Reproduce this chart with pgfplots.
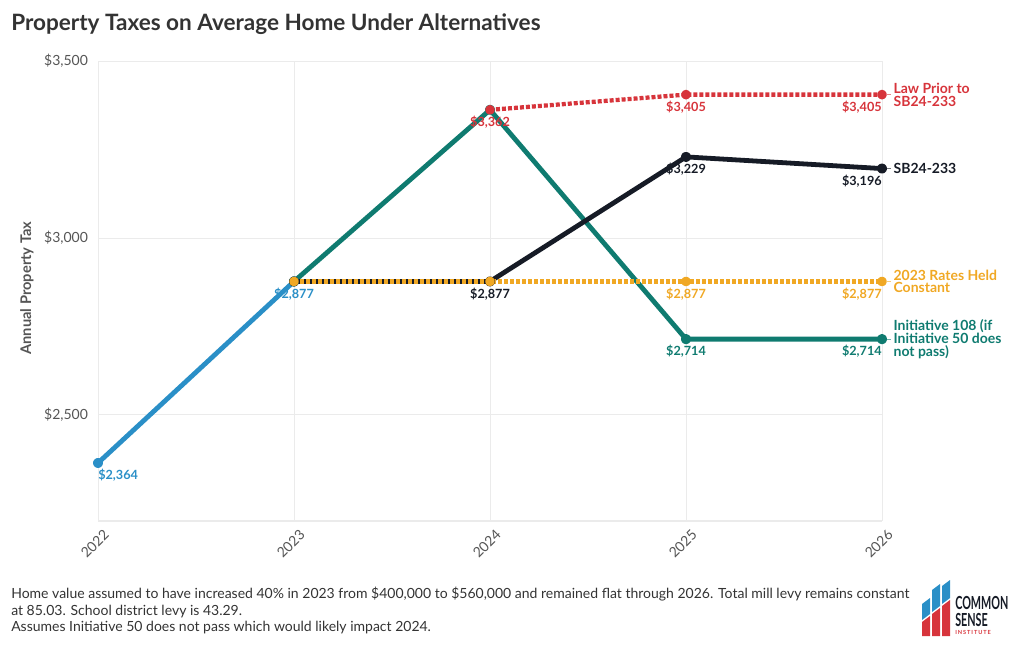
\documentclass[border=0pt]{standalone}
\usepackage{fontspec}
\setmainfont{Lato}
\newfontfamily\logofont[FakeStretch=0.6]{Lato}
\usepackage{pgfplots}
\pgfplotsset{compat=1.18}
\definecolor{cblue}{HTML}{2A8FC7}
\definecolor{cteal}{HTML}{0F7B70}
\definecolor{cred}{HTML}{D7343B}
\definecolor{cblack}{HTML}{161B26}
\definecolor{corange}{HTML}{F0A824}
\definecolor{ctitle}{HTML}{333333}
\definecolor{ctick}{HTML}{555555}
\definecolor{cgrid}{HTML}{EBEBEB}
\definecolor{lblue}{HTML}{2A8FC7}
\definecolor{lred}{HTML}{D7343B}
\begin{document}
\begin{tikzpicture}[x=0.75pt,y=-0.75pt]
\path[use as bounding box] (0,0) rectangle (1020,650);
\node[anchor=west, inner sep=0, text=ctitle, font=\bfseries\fontsize{16.9}{19}\selectfont] at (11,24) {Property Taxes on Average Home Under Alternatives};
\node[rotate=90, inner sep=0, text=ctick, font=\bfseries\fontsize{11}{12}\selectfont] at (27,288) {Annual Property Tax};
\begin{axis}[
  at={(73.5pt,-390.75pt)}, anchor=south west,
  scale only axis, width=588pt, height=345pt,
  xmin=2022, xmax=2026, ymin=2200, ymax=3500,
  xtick={2022,2023,2024,2025,2026},
  ytick={2500,3000,3500},
  grid=major, major grid style={cgrid, line width=0.6pt},
  axis line style={draw=none},
  major tick length=0pt,
  /pgf/number format/assume math mode=true,
  x tick label style={/pgf/number format/1000 sep={}, rotate=45, anchor=north east, text=ctick, font=\fontsize{10.5}{12}\selectfont, xshift=2pt, yshift=-3pt},
  yticklabel={\$\pgfmathprintnumber[1000 sep={,}]{\tick}},
  y tick label style={text=ctick, font=\fontsize{10.5}{12}\selectfont, xshift=-4pt},
  clip=false,
  every axis plot/.style={line width=3.6pt, mark=*, mark size=2pt, line join=round},
]
\draw[cgrid, line width=0.8pt] (axis cs:2022,2200) -- (axis cs:2026,2200);
% 2022-2023 history
\addplot[cblue, mark options={draw=none, fill=cblue}] coordinates {(2022,2364) (2023,2877)};
% Initiative 108
\addplot[cteal, mark options={draw=none, fill=cteal}] coordinates {(2023,2877) (2024,3362) (2025,2714) (2026,2714)};
% Law prior
\addplot[cred, line width=3.2pt, dash pattern=on 3pt off 1.5pt, mark options={draw=none, fill=cred, solid}] coordinates {(2024,3362) (2025,3405) (2026,3405)};
% SB24-233
\addplot[cblack, mark options={draw=none, fill=cblack}] coordinates {(2023,2877) (2024,2877) (2025,3229) (2026,3196)};
% 2023 rates held
\addplot[corange, line width=3.2pt, dash pattern=on 3pt off 1.5pt, mark options={draw=none, fill=corange, solid}] coordinates {(2023,2877) (2024,2877) (2025,2877) (2026,2877)};

\tikzset{dl/.style={font=\bfseries\fontsize{9.5}{10}\selectfont, inner sep=0pt, anchor=north, yshift=-4.5pt}}
\node[dl, text=cblue, anchor=north west] at (axis cs:2022,2364) {\$2,364};
\node[dl, text=cblue] at (axis cs:2023,2877) {\$2,877};
\node[dl, text=cred] at (axis cs:2024,3362) {\$3,362};
\node[dl, text=cblack] at (axis cs:2024,2877) {\$2,877};
\node[dl, text=cred] at (axis cs:2025,3405) {\$3,405};
\node[dl, text=cblack] at (axis cs:2025,3229) {\$3,229};
\node[dl, text=corange] at (axis cs:2025,2877) {\$2,877};
\node[dl, text=cteal] at (axis cs:2025,2714) {\$2,714};
\node[dl, text=cred, anchor=north east] at (axis cs:2026,3405) {\$3,405};
\node[dl, text=cblack, anchor=north east] at (axis cs:2026,3196) {\$3,196};
\node[dl, text=corange, anchor=north east] at (axis cs:2026,2877) {\$2,877};
\node[dl, text=cteal, anchor=north east] at (axis cs:2026,2714) {\$2,714};

\tikzset{el/.style={font=\bfseries\fontsize{10.5}{9.6}\selectfont, inner sep=0pt, anchor=west, xshift=8.5pt, align=left}}
\draw[cred!60, line width=0.6pt] ([xshift=3.5pt]axis cs:2026,3405) -- ([xshift=7pt]axis cs:2026,3405);
\draw[cblack!60, line width=0.6pt] ([xshift=3.5pt]axis cs:2026,3196) -- ([xshift=7pt]axis cs:2026,3196);
\draw[corange!60, line width=0.6pt] ([xshift=3.5pt]axis cs:2026,2877) -- ([xshift=7pt]axis cs:2026,2877);
\draw[cteal!60, line width=0.6pt] ([xshift=3.5pt]axis cs:2026,2714) -- ([xshift=7pt]axis cs:2026,2714);
\node[el, text=cred] at (axis cs:2026,3405) {Law Prior to\\SB24-233};
\node[el, text=cblack] at (axis cs:2026,3196) {SB24-233};
\node[el, text=corange] at (axis cs:2026,2877) {2023 Rates Held\\Constant};
\node[el, text=cteal] at (axis cs:2026,2714) {Initiative 108 (if\\Initiative 50 does\\not pass)};
\end{axis}
% footer
\node[anchor=north west, inner sep=0, text=ctitle, align=left, font=\fontsize{10.5}{12.4}\selectfont] at (11,587) {Home value assumed to have increased 40\% in 2023 from \$400,000 to \$560,000 and remained flat through 2026. Total mill levy remains constant\\at 85.03. School district levy is 43.29.\\Assumes Initiative 50 does not pass which would likely impact 2024.};
% logo
\fill[lred] (922,636) -- (922,622) -- (930,616) -- (930,636) -- cycle;
\fill[lred] (932,636) -- (932,614) -- (940,608) -- (940,636) -- cycle;
\fill[lred] (942,636) -- (942,606) -- (950,600) -- (950,636) -- cycle;
\fill[lblue] (922,620) -- (922,604) -- (930,598) -- (930,614) -- cycle;
\fill[lblue] (932,612) -- (932,590) -- (940,584) -- (940,606) -- cycle;
\fill[lblue] (942,604) -- (942,586) -- (950,580) -- (950,598) -- cycle;
\node[anchor=west, inner sep=0, text=cblack, font=\logofont\bfseries\fontsize{13.5}{13}\selectfont] at (955,603) {COMMON};
\node[anchor=west, inner sep=0, text=cblack, font=\logofont\bfseries\fontsize{13.5}{13}\selectfont] at (955,620) {SENSE};
\node[anchor=west, inner sep=0, text=lred, font=\bfseries\fontsize{4.2}{5}\selectfont] at (955,632) {I\,N\,S\,T\,I\,T\,U\,T\,E};
\end{tikzpicture}
\end{document}
